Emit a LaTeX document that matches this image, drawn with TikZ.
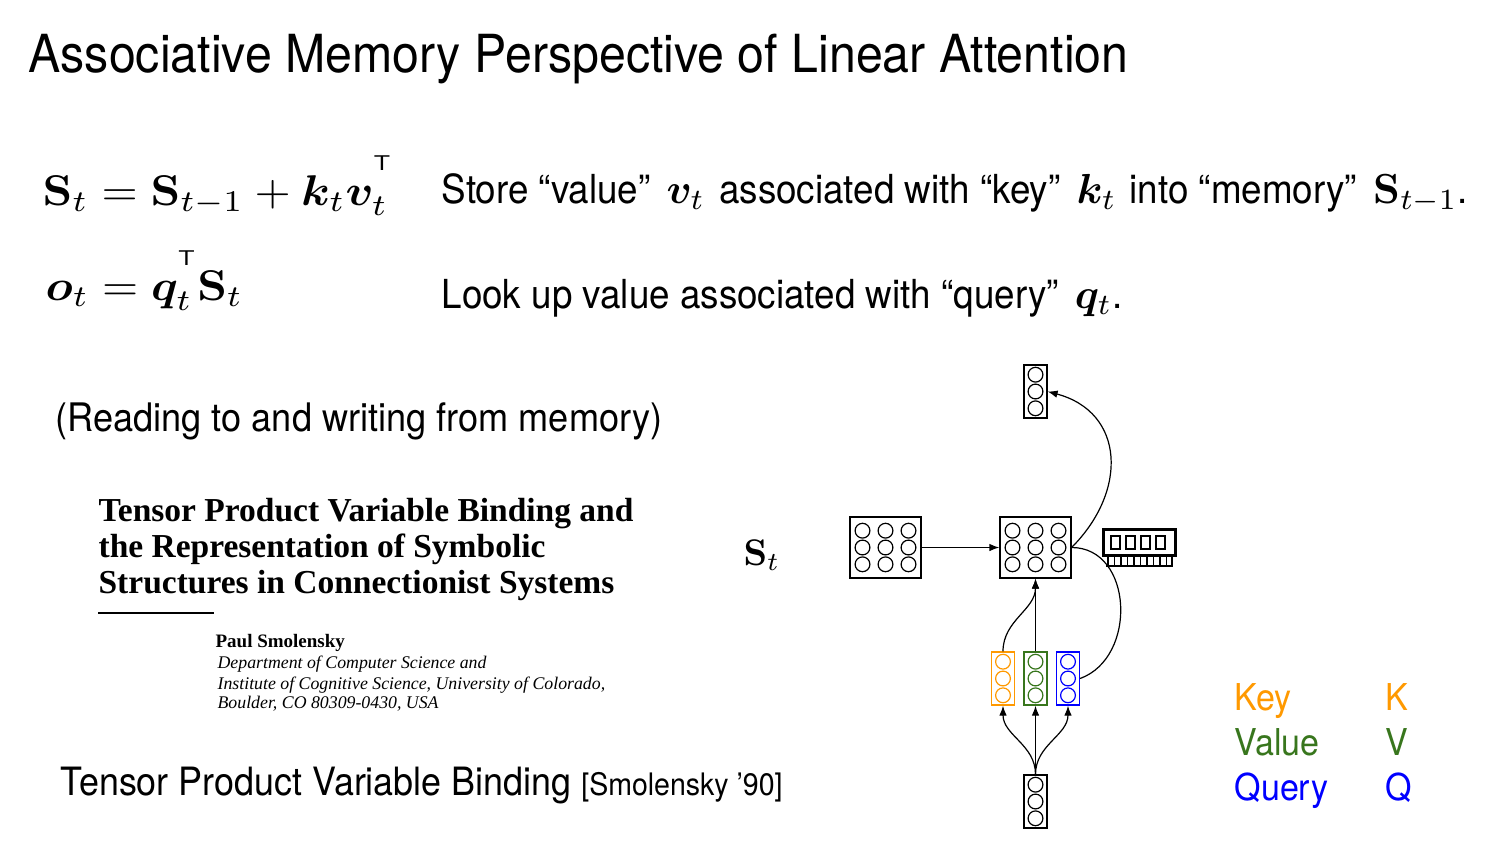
\documentclass[tikz,border=0pt]{standalone}
\usepackage[no-math]{fontspec}
\usepackage{amsmath}
\usepackage{bm}
\usepackage{graphicx}
\setmainfont{TeX Gyre Heros}[FakeStretch=0.92]
\newfontfamily\paperfont{Liberation Serif}
\usetikzlibrary{calc,arrows.meta}
\definecolor{keyorange}{RGB}{255,153,0}
\definecolor{valgreen}{RGB}{56,118,29}
\definecolor{qblue}{RGB}{0,0,255}
\def\bigmath#1{\scalebox{4.65}[4.3]{\normalsize$#1$}}
\def\txtmath#1{\scalebox{4.2}{\normalsize$#1$}}
\def\trsp{^{\raisebox{4.3pt}{$\scriptscriptstyle\mathsf{T}$}}}
\def\dotcol(#1:#2)#3{\draw[#3] ([shift={(#2,16.8)}]#1) circle (7.4pt);
	\draw[#3] ([shift={(#2,0)}]#1) circle (7.4pt);
	\draw[#3] ([shift={(#2,-16.8)}]#1) circle (7.4pt);}

\begin{document}
\begin{tikzpicture}[x=1pt, y=1pt, line width=1.2pt,
	box/.style={draw, line width=1.2pt, inner sep=0pt},
	mat/.style={box, minimum width=71pt, minimum height=61pt},
	vec/.style={box, minimum width=23pt, minimum height=53pt},
	link/.style={line width=1.2pt, -{Latex[length=10pt,width=7.5pt]}},
	txt/.style={anchor=base west, inner sep=0pt}]
			%%%%% START %%%%%
			\useasboundingbox (0,0) rectangle (1500,-844);
			
			\node[txt, font=\fontsize{52.5}{60}\selectfont] (title) at (28,-72) {Associative Memory Perspective of Linear Attention};
			
			\node[txt] (eqS) at (42,-205) {\bigmath{\mathbf{S}_t = \mathbf{S}_{t-1} + \bm{k}_t\bm{v}_t\trsp}};
			\node[txt] (eqO) at (45,-300) {\bigmath{\bm{o}_t = \bm{q}_t\trsp\mathbf{S}_t}};
			
			\node[txt, font=\fontsize{40}{48}\selectfont] (store) at (441,-203) {Store “value”\hspace{16pt}\txtmath{\bm{v}_t}\hspace{14pt}associated with “key”\hspace{16pt}\txtmath{\bm{k}_t}\hspace{13pt}into “memory”\hspace{16pt}\txtmath{\mathbf{S}_{t-1}}.};
			\node[txt, font=\fontsize{40}{48}\selectfont] (look) at (441,-308) {Look up value associated with “query”\hspace{16pt}\txtmath{\bm{q}_t}.};
			
			\node[txt, font=\fontsize{39.3}{44}\selectfont] (rw) at (55,-431) {(Reading to and writing from memory)};
			
			% paper header
			\node[txt, font=\paperfont\bfseries\fontsize{33.5}{36}\selectfont] (pt1) at (98,-521) {Tensor Product Variable Binding and};
			\node[txt, font=\paperfont\bfseries\fontsize{33.5}{36}\selectfont] (pt2) at (98,-557) {the Representation of Symbolic};
			\node[txt, font=\paperfont\bfseries\fontsize{33.5}{36}\selectfont] (pt3) at (98,-593) {Structures in Connectionist Systems};
			\draw[line width=1.5pt] (98,-613) -- (214,-613);
			\node[txt, font=\paperfont\bfseries\fontsize{19}{22}\selectfont] (author) at (215,-647) {Paul Smolensky};
			\node[txt, font=\paperfont\itshape\fontsize{17.8}{20}\selectfont] (aff1) at (217,-668) {Department of Computer Science and};
			\node[txt, font=\paperfont\itshape\fontsize{17.8}{20}\selectfont] (aff2) at (217,-689) {Institute of Cognitive Science, University of Colorado,};
			\node[txt, font=\paperfont\itshape\fontsize{17.8}{20}\selectfont] (aff3) at (217,-708) {Boulder, CO 80309-0430, USA};
			
			\node[txt, font=\fontsize{39}{45}\selectfont] (tpvb) at (60,-795) {Tensor Product Variable Binding {\fontsize{31}{33}\selectfont [Smolensky ’90]}};
			
			\node[txt] (Slabel) at (743,-565) {\scalebox{3.7}{\normalsize$\mathbf{S}_t$}};
			
			% network
			\node[mat] (matL) at (885.5,-547.5) {};
			\node[mat] (matC) at (1035.5,-547.5) {};
			\node[vec] (vecTop) at (1035.5,-391.5) {};
			\node[vec] (vecBot) at (1035.5,-801.5) {};
			\node[vec, draw=keyorange] (vecK) at (1003,-678.5) {};
			\node[vec, draw=valgreen] (vecV) at (1035.5,-678.5) {};
			\node[vec, draw=qblue] (vecQ) at (1068,-678.5) {};
			
			\dotcol(matL:-23){black}
			\dotcol(matL:0){black}
			\dotcol(matL:23){black}
			\dotcol(matC:-23){black}
			\dotcol(matC:0){black}
			\dotcol(matC:23){black}
			\dotcol(vecTop:0){black}
			\dotcol(vecBot:0){black}
			\dotcol(vecK:0){keyorange}
			\dotcol(vecV:0){valgreen}
			\dotcol(vecQ:0){qblue}
			
			\draw[link] (matL.east) -- (matC.west);
			\draw[link] (vecBot.north) to[out=90, in=-90] (vecK.south);
			\draw[link] (vecBot.north) -- (vecV.south);
			\draw[link] (vecBot.north) to[out=90, in=-90] (vecQ.south);
			\draw[link] (vecK.north) to[out=90, in=-90] (matC.south);
			\draw[link] (vecV.north) -- (matC.south);
			\draw[line width=1.2pt] (vecQ.east) to[out=20, in=0, looseness=1.2] (matC.east);
			\draw[link] (matC.east) to[out=45, in=-15, looseness=1.3] (vecTop.east);
			
			% memory chip
			\draw[line width=3pt] (1103.5,-529.5) rectangle (1175.5,-555.5);
			\draw[line width=2.4pt] (1111,-536) rectangle (1120,-549);
			\draw[line width=2.4pt] (1126,-536) rectangle (1135,-549);
			\draw[line width=2.4pt] (1141,-536) rectangle (1150,-549);
			\draw[line width=2.4pt] (1156,-536) rectangle (1165,-549);
			\draw[line width=2.4pt] (1106,-566) -- (1173,-566);
			\draw[line width=1.8pt] (1108,-557) -- (1108,-566) (1114.5,-557) -- (1114.5,-566)
				(1121,-557) -- (1121,-566) (1127.5,-557) -- (1127.5,-566)
				(1134,-557) -- (1134,-566) (1140.5,-557) -- (1140.5,-566)
				(1147,-557) -- (1147,-566) (1153.5,-557) -- (1153.5,-566)
				(1160,-557) -- (1160,-566) (1166.5,-557) -- (1166.5,-566)
				(1172,-557) -- (1172,-566);
			
			% legend
			\node[txt, font=\fontsize{37}{44}\selectfont, text=keyorange] (lkey) at (1234,-710) {Key};
			\node[txt, font=\fontsize{37}{44}\selectfont, text=valgreen] (lval) at (1234,-755) {Value};
			\node[txt, font=\fontsize{37}{44}\selectfont, text=qblue] (lqry) at (1234,-800) {Query};
			\node[txt, font=\fontsize{37}{44}\selectfont, text=keyorange] (lK) at (1385,-710) {K};
			\node[txt, font=\fontsize{37}{44}\selectfont, text=valgreen] (lV) at (1385,-755) {V};
			\node[txt, font=\fontsize{37}{44}\selectfont, text=qblue] (lQ) at (1385,-800) {Q};
			%%%%% END %%%%%
\end{tikzpicture}
\end{document}
